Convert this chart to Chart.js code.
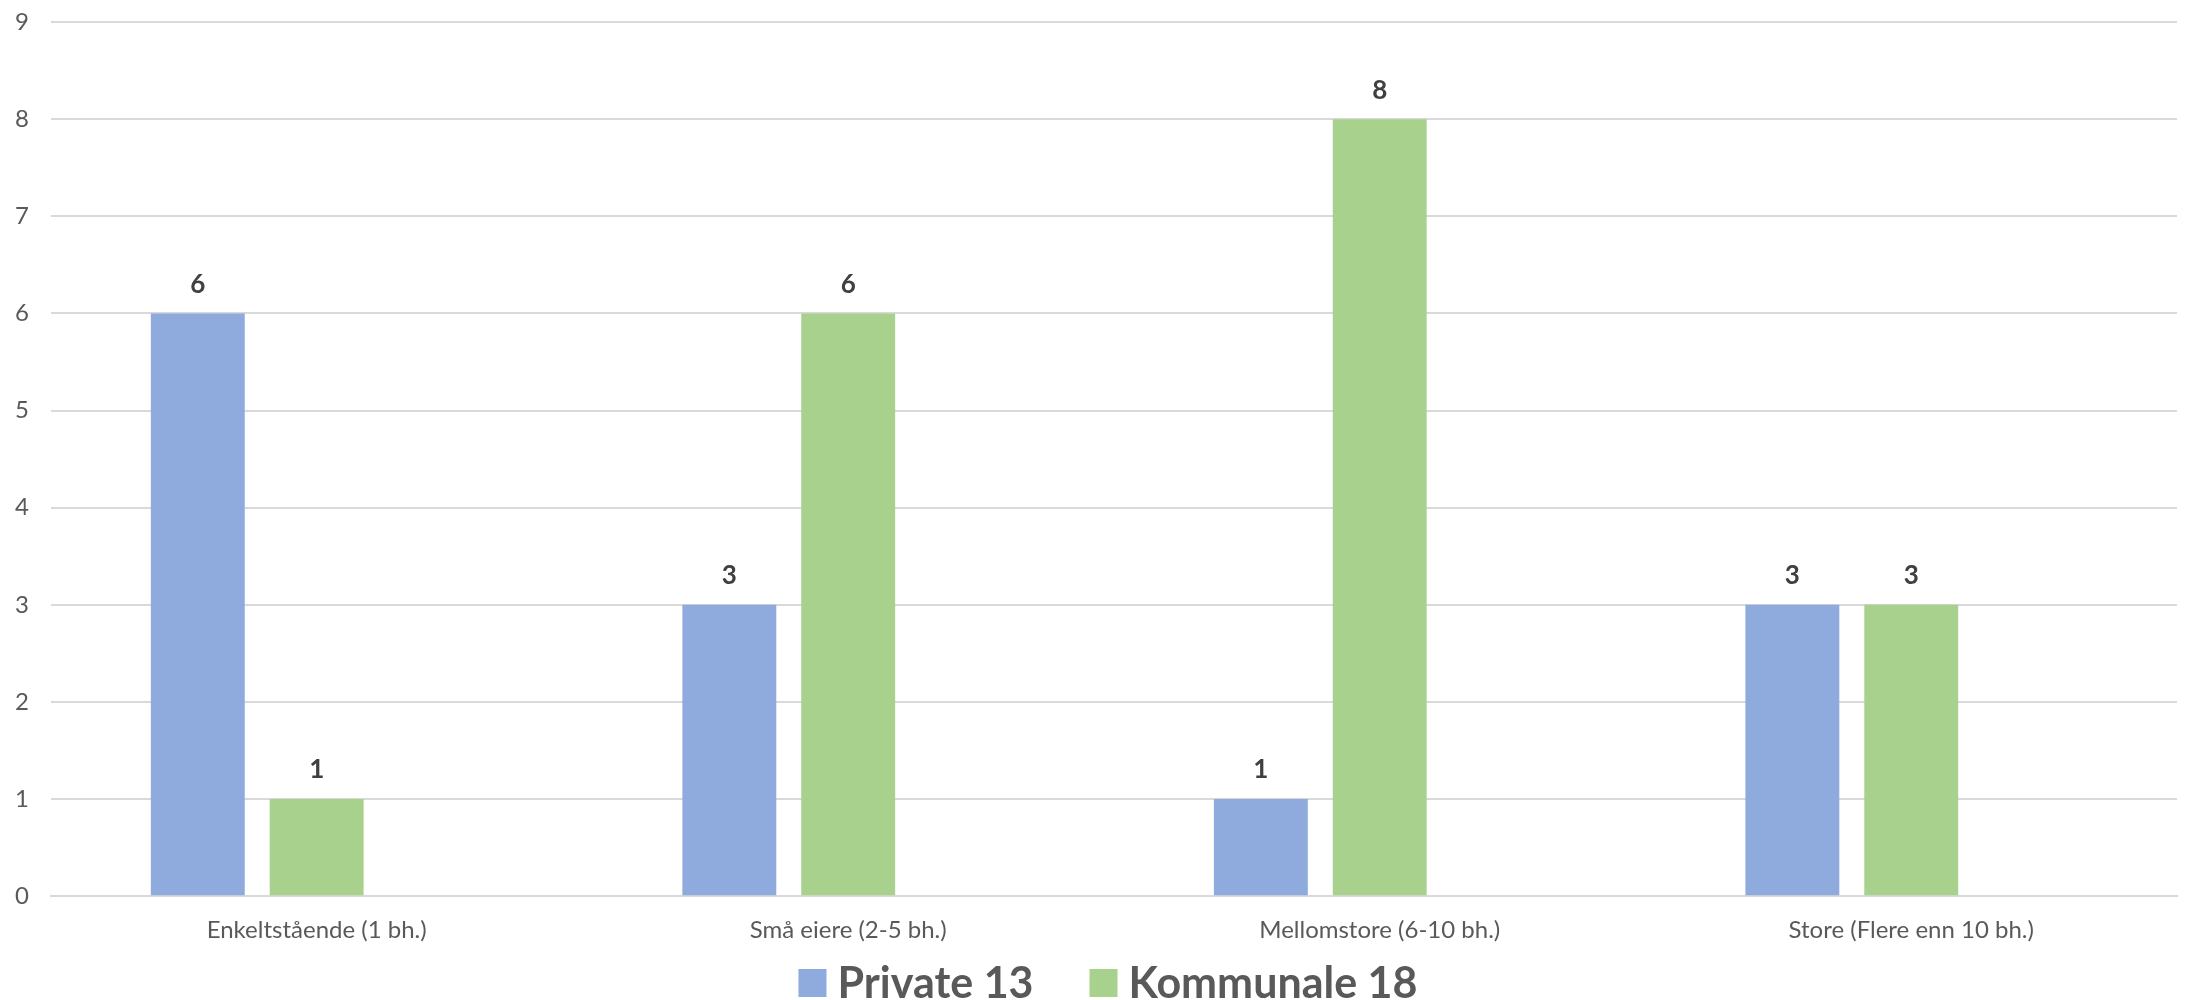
<!DOCTYPE html>
<html>
<head>
<meta charset="utf-8">
<script src="https://cdn.jsdelivr.net/npm/chart.js@4.4.1/dist/chart.umd.min.js"></script>
<style>
  html, body { margin: 0; padding: 0; background: #ffffff; }
  #wrap { width: 2185px; height: 1000px; }
</style>
</head>
<body>
<div id="wrap"><canvas id="ownersChart"></canvas></div>
<script>
// data
var categories = ['Enkeltstående (1 bh.)', 'Små eiere (2-5 bh.)', 'Mellomstore (6-10 bh.)', 'Store (Flere enn 10 bh.)'];
var privateValues = [6, 3, 1, 3];
var kommunaleValues = [1, 6, 8, 3];
var emptyValues = [null, null, null, null]; // third (blank) series that keeps the bars shifted left
var seriesNames = ['Private 13', 'Kommunale 18', ''];
var seriesColors = ['#8faadc', '#a9d18e', 'rgba(0,0,0,0)'];
var yMax = 9;
var yStep = 1;

var fontFamily = 'Lato, "Open Sans", sans-serif';

// bold value labels above each bar
var valueLabels = {
    id: 'valueLabels',
    afterDatasetsDraw: function(chart) {
        var ctx = chart.ctx;
        ctx.save();
        ctx.font = 'bold 26px ' + fontFamily;
        ctx.fillStyle = '#404040';
        ctx.textAlign = 'center';
        ctx.textBaseline = 'bottom';
        chart.data.datasets.forEach(function(ds, i) {
            var meta = chart.getDatasetMeta(i);
            meta.data.forEach(function(bar, j) {
                var v = ds.data[j];
                if (v === null || v === undefined) return;
                ctx.fillText(String(v), bar.x, bar.y - 16);
            });
        });
        ctx.restore();
    }
};

// legend drawn at the bottom, centred under the plot area (only named series)
var bottomLegend = {
    id: 'bottomLegend',
    afterDraw: function(chart) {
        var ctx = chart.ctx;
        var box = 28, gap = 11, itemGap = 56;
        var y = chart.height - 17;
        ctx.save();
        ctx.font = 'bold 43px ' + fontFamily;
        ctx.textBaseline = 'middle';
        var items = chart.data.datasets.filter(function(ds) { return ds.label !== ''; });
        var widths = items.map(function(ds) { return box + gap + ctx.measureText(ds.label).width; });
        var total = widths.reduce(function(a, b) { return a + b; }, 0) + itemGap * (items.length - 1);
        var x = (chart.chartArea.left + chart.chartArea.right) / 2 - total / 2 - 6;
        items.forEach(function(ds, i) {
            ctx.fillStyle = ds.backgroundColor;
            ctx.fillRect(x, y - box / 2, box, box);
            ctx.fillStyle = '#595959';
            ctx.textAlign = 'left';
            ctx.fillText(ds.label, x + box + gap, y + 1);
            x += widths[i] + itemGap;
        });
        ctx.restore();
    }
};

document.addEventListener('DOMContentLoaded', function() {
    var ctx = document.getElementById('ownersChart').getContext('2d');
    var chart = new Chart(ctx, {
        type: 'bar',
        data: {
            labels: categories,
            datasets: [{
                label: seriesNames[0],
                data: privateValues,
                backgroundColor: seriesColors[0]
            }, {
                label: seriesNames[1],
                data: kommunaleValues,
                backgroundColor: seriesColors[1]
            }, {
                label: seriesNames[2],
                data: emptyValues,
                backgroundColor: seriesColors[2]
            }]
        },
        options: {
            responsive: true,
            maintainAspectRatio: false,
            animation: false,
            devicePixelRatio: 1,
            categoryPercentage: 0.671,
            barPercentage: 0.79,
            layout: {
                padding: { top: 10, right: 8, left: -7, bottom: 35 }
            },
            plugins: {
                tooltip: { enabled: false },
                legend: { display: false }
            },
            scales: {
                x: {
                    grid: { display: false, drawTicks: false },
                    border: { display: true, color: '#d9d9d9', width: 2 },
                    ticks: {
                        color: '#595959',
                        padding: 20,
                        font: { family: fontFamily, size: 24 }
                    }
                },
                y: {
                    min: 0,
                    max: yMax,
                    grid: { color: '#d9d9d9', lineWidth: 2, drawTicks: false },
                    border: { display: false },
                    ticks: {
                        stepSize: yStep,
                        color: '#595959',
                        padding: 22,
                        font: { family: fontFamily, size: 24, lineHeight: 0.01 }
                    }
                }
            }
        },
        plugins: [valueLabels, bottomLegend]
    });
});
</script>
</body>
</html>
